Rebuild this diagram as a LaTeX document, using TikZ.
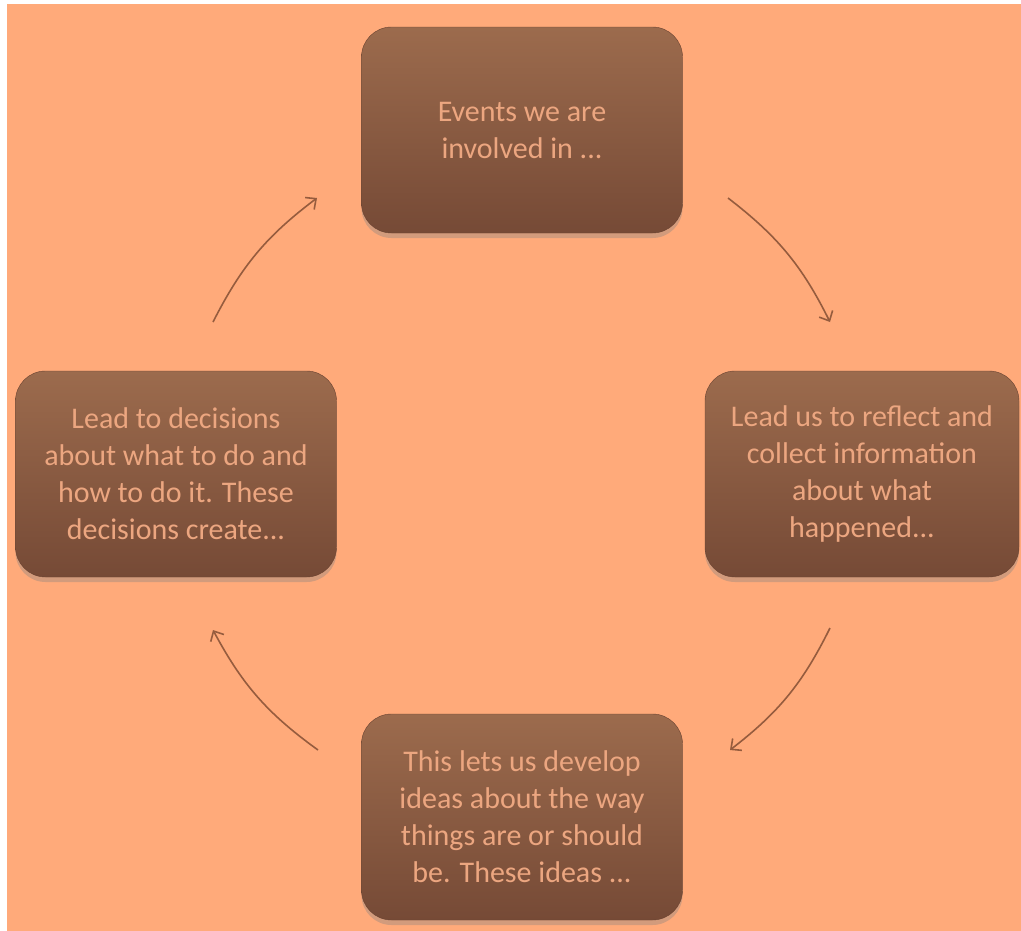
\documentclass[tikz,border=0pt]{standalone}
\usepackage{fontspec}
\setmainfont{Carlito}
\usepackage{tikz}
\usepackage{xcolor}
\usetikzlibrary{arrows.meta,shadows}
\definecolor{peach}{RGB}{255,170,122}
\definecolor{boxtop}{RGB}{156,107,77}
\definecolor{boxbottom}{RGB}{118,74,54}
\definecolor{boxtext}{RGB}{236,166,128}
\definecolor{arrowbrown}{RGB}{150,92,62}
\tikzset{
    cycle-box/.style = {rectangle, rounded corners=30pt, minimum width=321pt, minimum height=206pt, top color=boxtop, bottom color=boxbottom, draw=boxbottom!90!black, thin, text=boxtext, align=center, font=\fontsize{30}{37}\selectfont, drop shadow={opacity=0.35, shadow xshift=0pt, shadow yshift=-5pt}},
    cycle-arrow/.style = {draw=arrowbrown, line width=1.6pt, -{Straight Barb[length=8pt,width=15pt]}},
}
\begin{document}
\begin{tikzpicture}[x=1pt,y=-1pt]
\useasboundingbox (0,0) rectangle (1021,930);
\fill[white] (-10,-10) rectangle (1040,950);
\fill[peach] (7,4) rectangle (1040,950);
\node [cycle-box] (events) at (522,130) {Events we are\\involved in ...};
\node [cycle-box, minimum width=314pt] (reflect) at (862,474) {Lead us to reflect and\\collect information\\about what\\happened...};
\node [cycle-box] (ideas) at (522,817) {This lets us develop\\ideas about the way\\things are or should\\be. These ideas ...};
\node [cycle-box] (decisions) at (176,474) {Lead to decisions\\about what to do and\\how to do it. These\\decisions create...};
\coordinate (a1-start) at (213,322);
\coordinate (a1-end) at (317,198);
\coordinate (a2-start) at (728,198);
\coordinate (a2-end) at (830,322);
\coordinate (a3-start) at (830,628);
\coordinate (a3-end) at (730,750);
\coordinate (a4-start) at (318,750);
\coordinate (a4-end) at (213,630);
\draw [cycle-arrow] (a1-start) to[bend left=13] (a1-end);
\draw [cycle-arrow] (a2-start) to[bend left=13] (a2-end);
\draw [cycle-arrow] (a3-start) to[bend left=13] (a3-end);
\draw [cycle-arrow] (a4-start) to[bend left=13] (a4-end);
\end{tikzpicture}
\end{document}
